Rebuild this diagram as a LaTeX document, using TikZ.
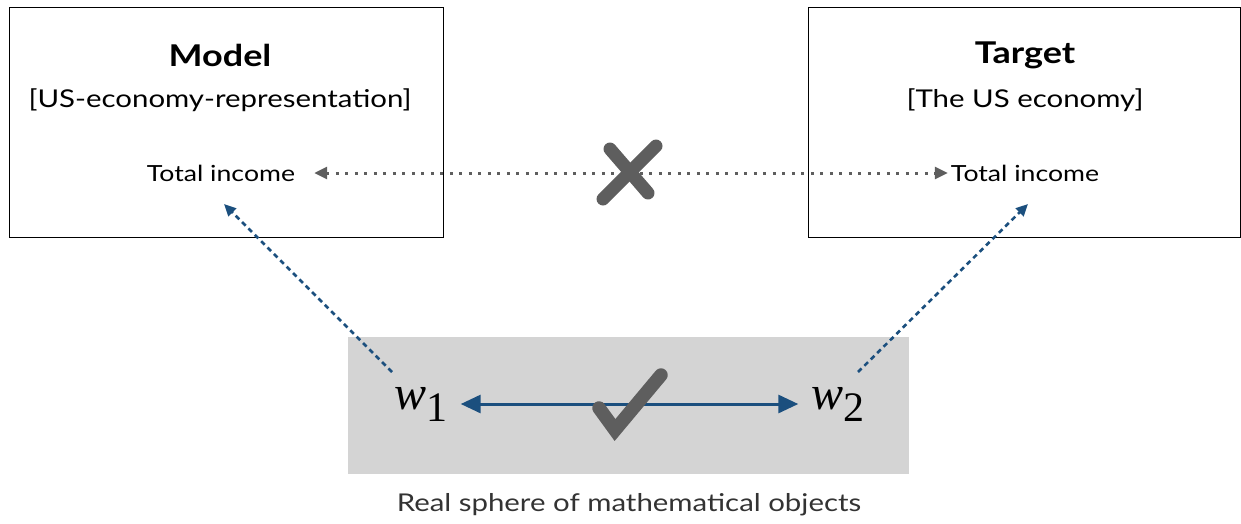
\documentclass[tikz,border=0pt]{standalone}
\usepackage{fontspec}
\setmainfont{Lato}[FakeStretch=1.2]
\newfontfamily\mathserif{Liberation Serif}
\usetikzlibrary{arrows.meta}
\definecolor{dblue}{HTML}{1B4F7E}
\definecolor{mgrey}{HTML}{5E5E5E}
\definecolor{bggrey}{HTML}{D4D4D4}
\definecolor{captext}{HTML}{333333}
\tikzset{
  box/.style={draw=black, line width=1pt},
  ttl/.style={font=\fontsize{30}{34}\selectfont\bfseries},
  sub/.style={font=\fontsize{24.5}{29}\selectfont},
  lbl/.style={font=\fontsize{22.2}{27}\selectfont, inner sep=0pt},
  wvar/.style={font=\fontsize{48}{54}\selectfont\mathserif, inner sep=0pt},
  greyarr/.style={draw=mgrey, line width=3pt, dash pattern=on 3pt off 6.5pt, {Triangle[length=13pt,width=12pt]}-{Triangle[length=13pt,width=12pt]}},
  bluedot/.style={draw=dblue, line width=2.6pt, dash pattern=on 5pt off 4pt, -{Triangle[length=12pt,width=11pt]}},
  bluearr/.style={draw=dblue, line width=3pt, {Triangle[length=20pt,width=18pt]}-{Triangle[length=20pt,width=18pt]}},
  tickstroke/.style={draw=mgrey, line width=13pt, line cap=round},
}
\begin{document}
\begin{tikzpicture}[x=1pt,y=-1pt]
\useasboundingbox (0,0) rectangle (1241,523);
% gray sphere
\fill[bggrey] (348,337) rectangle (909,474);
% boxes
\draw[box] (9,7) rectangle (443,237);
\draw[box] (808,7) rectangle (1240,237);
\node[ttl] (model) at (220,55) {Model};
\node[sub] (modelsub) at (220,100) {[US-economy-representation]};
\node[ttl] (target) at (1025,55) {Target};
\node[sub] (targetsub) at (1025,100) {[The US economy]};
\node[lbl] (ti1) at (221,173) {Total income};
\node[lbl] (ti2) at (1025,173) {Total income};
% grey dotted arrow
\draw[greyarr] ([xshift=19pt]ti1.east) -- ([xshift=-3pt]ti2.west);
% X mark
\draw[tickstroke] (603,199) -- (656,146);
\draw[tickstroke] (610,149) -- (648,193);
% w nodes
\node[wvar] (w1) at (421,404) {\textit{w}\raisebox{-12pt}{\fontsize{42}{46}\selectfont 1}};
\node[wvar] (w2) at (838,404) {\textit{w}\raisebox{-12pt}{\fontsize{42}{46}\selectfont 2}};
\draw[bluearr] ([xshift=13pt]w1.east) -- ([xshift=-13pt]w2.west);
% check mark
\draw[tickstroke, line width=13.5pt] (599,408) -- (615,430) -- (661,375);
% blue dotted arrows
\coordinate (s1) at (392,372);
\coordinate (e1) at (224,204);
\coordinate (s2) at (858,372);
\coordinate (e2) at (1028,204);
\draw[bluedot] (s1) -- (e1);
\draw[bluedot] (s2) -- (e2);
% caption
\node[font=\fontsize{24.5}{29}\selectfont, text=captext] (cap) at (629,505) {Real sphere of mathematical objects};
\end{tikzpicture}
\end{document}
